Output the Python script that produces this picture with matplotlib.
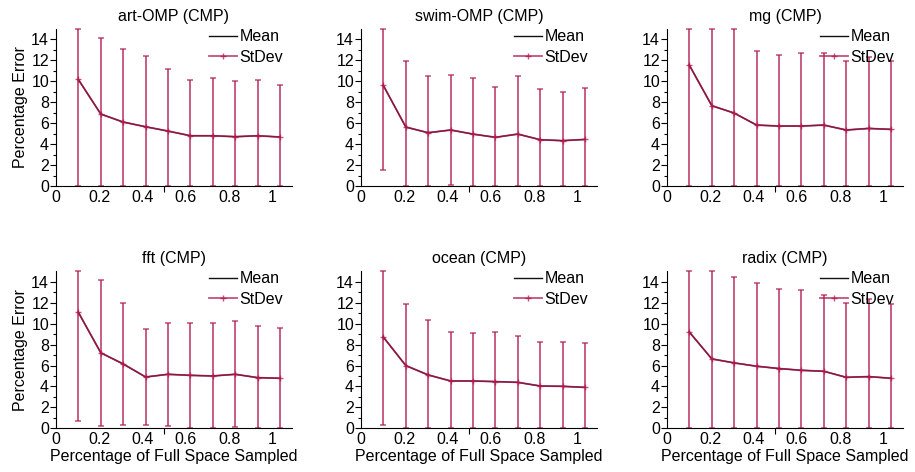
import numpy as np
import matplotlib
matplotlib.use("Agg")
import matplotlib.pyplot as plt

plt.rcParams["font.family"] = ["Liberation Sans", "DejaVu Sans"]
plt.rcParams["font.size"] = 11.5

# ── Дані ─────────────────────────────────────────────────────────────────────
x = [0.103, 0.207, 0.31, 0.414, 0.517, 0.621, 0.724, 0.828, 0.931, 1.035]

titles = ["art-OMP (CMP)", "swim-OMP (CMP)", "mg (CMP)",
          "fft (CMP)", "ocean (CMP)", "radix (CMP)"]

art_mean = [10.18, 6.87, 6.11, 5.66, 5.25, 4.80, 4.80, 4.71, 4.80, 4.68]
art_sd   = [11.5, 7.29, 6.97, 6.75, 5.92, 5.32, 5.54, 5.34, 5.32, 4.99]

swim_mean = [9.61, 5.63, 5.09, 5.35, 4.96, 4.65, 4.96, 4.42, 4.33, 4.45]
swim_sd   = [8.08, 6.27, 5.38, 5.25, 5.38, 4.83, 5.51, 4.81, 4.61, 4.87]

mg_mean = [11.55, 7.67, 6.97, 5.82, 5.73, 5.73, 5.82, 5.35, 5.50, 5.41]
mg_sd   = [12.5, 8.5, 8.5, 7.10, 6.77, 6.93, 6.90, 6.55, 6.78, 6.55]

fft_mean = [11.09, 7.21, 6.15, 4.90, 5.16, 5.06, 5.00, 5.16, 4.84, 4.78]
fft_sd   = [10.38, 6.96, 5.84, 4.62, 4.94, 5.04, 5.10, 5.06, 4.94, 4.80]

ocean_mean = [8.72, 5.99, 5.10, 4.52, 4.52, 4.46, 4.39, 4.04, 4.01, 3.91]
ocean_sd   = [8.40, 5.93, 5.25, 4.68, 4.58, 4.74, 4.42, 4.20, 4.23, 4.26]

radix_mean = [9.20, 6.63, 6.25, 5.93, 5.71, 5.54, 5.45, 4.87, 4.94, 4.78]
radix_sd   = [10.5, 8.6, 8.17, 7.98, 7.56, 7.67, 7.27, 7.12, 7.46, 7.14]

series = [(art_mean, art_sd), (swim_mean, swim_sd), (mg_mean, mg_sd),
          (fft_mean, fft_sd), (ocean_mean, ocean_sd), (radix_mean, radix_sd)]

# ── Розкладка ────────────────────────────────────────────────────────────────
W, H = 915, 472
fig = plt.figure(figsize=(W / 100, H / 100), dpi=100)

lefts   = [56, 361, 667]
bottoms = [186, 428.3]
aw, ah = 236, 157
YMAX = 15

COLOR_MEAN = "#111111"
COLOR_SD   = "#b01850"

for i, (title, (mean, sd)) in enumerate(zip(titles, series)):
    row, col = divmod(i, 3)
    ax = fig.add_axes([lefts[col] / W, 1 - bottoms[row] / H, aw / W, ah / H])

    m = np.array(mean)
    s = np.array(sd)
    lo = m - np.clip(m - s, 0, YMAX)      # обрізаємо вуса по межах осі,
    hi = np.clip(m + s, 0, YMAX) - m      # щоб капелюшки були видні

    ax.plot(x, mean, color=COLOR_MEAN, linewidth=1.0, label="Mean")
    ax.errorbar(x, mean, yerr=[lo, hi], fmt="none", ecolor=COLOR_SD,
                alpha=0.7, elinewidth=1.4, capsize=2.5, capthick=1.2,
                clip_on=False)
    ax.plot(x, mean, color=COLOR_SD, alpha=0.75, linewidth=1.3,
            marker="+", markersize=4, label="StDev")

    ax.set_xlim(0, 1.09)
    ax.set_ylim(0, YMAX)
    ax.set_yticks(np.arange(0, 15, 2))
    ax.set_yticks(np.arange(1, 15, 2), minor=True)
    ax.set_xticks([0, 0.2, 0.4, 0.6, 0.8, 1.0])
    ax.set_xticklabels(["0", "0.2", "0.4", "0.6", "0.8", "1"])
    ax.set_xticks([0, 0.5, 1.0], minor=True)
    ax.tick_params(axis="y", which="major", length=4, width=0.8, pad=1)
    ax.tick_params(axis="y", which="minor", length=2, width=0.8)
    ax.tick_params(axis="x", which="major", length=0, pad=3)
    ax.tick_params(axis="x", which="minor", length=4, width=0.8)

    for sp in ["top", "right"]:
        ax.spines[sp].set_visible(False)

    ax.set_title(title, fontsize=11.5, pad=6)
    ax.legend(loc="upper right", bbox_to_anchor=(0.99, 1.04), frameon=False,
              borderaxespad=0, handlelength=1.75, handletextpad=0.15,
              labelspacing=0.35)

    if col == 0:
        ax.set_ylabel("Percentage Error", labelpad=2)
    if row == 1:
        ax.set_xlabel("Percentage of Full Space Sampled", labelpad=1)

plt.savefig("out.png", dpi=100)
